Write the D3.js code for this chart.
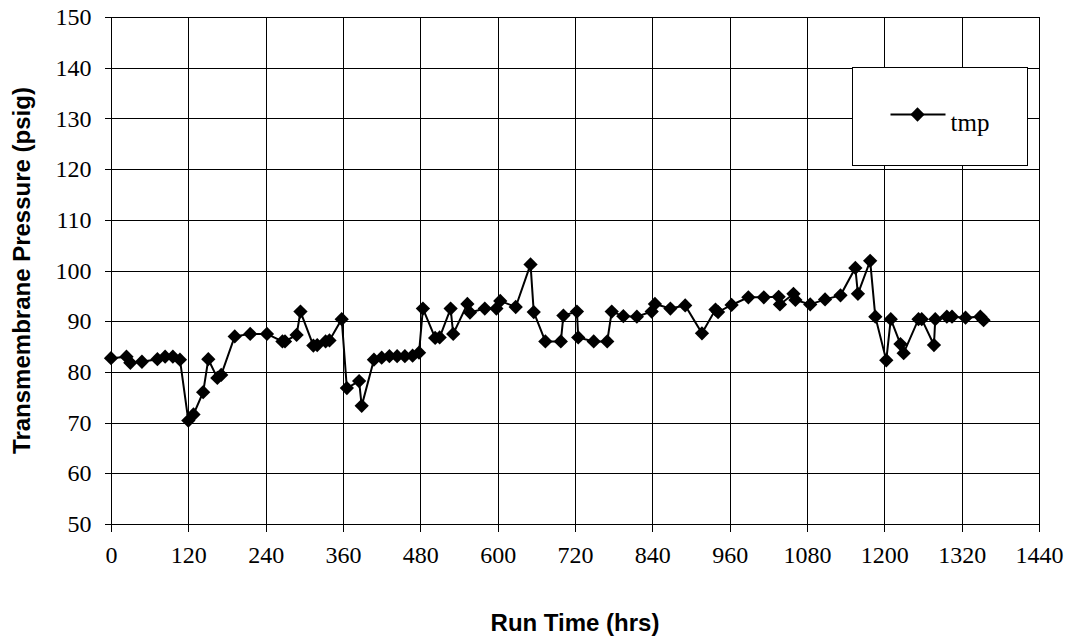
<!DOCTYPE html>
<html>
<head>
<meta charset="utf-8">
<script src="https://cdn.jsdelivr.net/npm/d3@7"></script>
<style>
  body { margin: 0; background: #fff; }
  svg { display: block; }
  .tick text { font-family: "Liberation Serif", "Times New Roman", serif; font-size: 24px; fill: #000; }
</style>
</head>
<body>
<div id="chart"></div>
<script>
// run time (hrs) and transmembrane pressure (psig)
var hours = [0, 24, 30, 48, 72, 84, 96, 107,
  120, 128, 143, 151, 165, 171, 192, 216, 242, 266, 270, 288, 294,
  314, 320, 333, 339, 358, 366, 385, 389, 408, 420, 432, 444, 456, 468, 478,
  484, 503, 510, 527, 531, 553, 557, 580, 598, 604, 628, 651, 656,
  674, 698, 702, 723, 725, 749, 770, 777, 795, 816, 839, 844,
  868, 891, 917, 938, 942, 963, 989, 1013, 1036, 1038, 1059, 1062,
  1085, 1108, 1132, 1155, 1159, 1178, 1186, 1203, 1210, 1225, 1230,
  1253, 1258, 1277, 1279, 1297, 1305, 1326, 1349, 1354];
var tmp = [82.7, 83.0, 81.8, 82.0, 82.5, 83.0, 83.0, 82.4,
  70.4, 71.6, 76.0, 82.5, 78.8, 79.4, 87.0, 87.5, 87.5, 86.0, 86.0, 87.3, 91.9,
  85.2, 85.3, 86.0, 86.2, 90.4, 76.8, 78.2, 73.3, 82.4, 82.8, 83.1, 83.1, 83.1, 83.2, 83.8,
  92.5, 86.7, 86.8, 92.5, 87.5, 93.4, 91.7, 92.5, 92.5, 94.0, 92.8, 101.2, 91.8,
  86.0, 86.0, 91.1, 91.9, 86.8, 86.0, 86.0, 91.9, 91.0, 90.9, 91.9, 93.4,
  92.5, 93.1, 87.6, 92.3, 91.8, 93.2, 94.7, 94.7, 94.8, 93.3, 95.4, 94.2,
  93.3, 94.3, 95.1, 100.5, 95.4, 101.9, 90.9, 82.3, 90.4, 85.5, 83.7,
  90.4, 90.4, 85.3, 90.4, 90.9, 90.9, 90.7, 90.9, 90.2];
var xTicks = [0, 120, 240, 360, 480, 600, 720, 840, 960, 1080, 1200, 1320, 1440];
var yTicks = [50, 60, 70, 80, 90, 100, 110, 120, 130, 140, 150];
var seriesName = "tmp";

var data = hours.map(function(h, i) { return {h: h, v: tmp[i]}; });

var width = 1071, height = 637;
var margin = {top: 17, right: 32, bottom: 113, left: 111};
var serif = "'Liberation Serif', 'Times New Roman', serif";

var svg = d3.select("#chart").append("svg")
    .attr("width", width)
    .attr("height", height);

var x = d3.scaleLinear().domain([0, 1440]).range([margin.left, width - margin.right]);
var y = d3.scaleLinear().domain([50, 150]).range([height - margin.bottom, margin.top]);

// gridlines
svg.append("g")
    .selectAll("line")
    .data(xTicks)
  .enter().append("line")
    .attr("x1", function(d) { return Math.round(x(d)) + 0.5; })
    .attr("x2", function(d) { return Math.round(x(d)) + 0.5; })
    .attr("y1", y(150))
    .attr("y2", y(50))
    .attr("stroke", "#000")
    .attr("shape-rendering", "crispEdges");

svg.append("g")
    .selectAll("line")
    .data(yTicks)
  .enter().append("line")
    .attr("x1", x(0))
    .attr("x2", x(1440))
    .attr("y1", function(d) { return Math.round(y(d)) + 0.5; })
    .attr("y2", function(d) { return Math.round(y(d)) + 0.5; })
    .attr("stroke", "#000")
    .attr("shape-rendering", "crispEdges");

// axes
var xAxis = svg.append("g")
    .attr("transform", "translate(0," + (Math.round(y(50)) + 0.5) + ")")
    .call(d3.axisBottom(x).tickValues(xTicks).tickFormat(d3.format("d")).tickSize(7).tickPadding(14));
var yAxis = svg.append("g")
    .attr("transform", "translate(" + (Math.round(x(0)) + 0.5) + ",0)")
    .call(d3.axisLeft(y).tickValues(yTicks).tickFormat(d3.format("d")).tickSize(7).tickPadding(13));

[xAxis, yAxis].forEach(function(g) {
  g.attr("font-family", serif).attr("font-size", 24);
  g.select(".domain").remove();
  g.selectAll(".tick line").attr("stroke", "#000").attr("shape-rendering", "crispEdges");
  g.selectAll(".tick text").attr("fill", "#000");
});

// plot frame
svg.append("rect")
    .attr("x", Math.round(x(0)) + 0.5)
    .attr("y", Math.round(y(150)) + 0.5)
    .attr("width", Math.round(x(1440)) - Math.round(x(0)))
    .attr("height", Math.round(y(50)) - Math.round(y(150)))
    .attr("fill", "none")
    .attr("stroke", "#000")
    .attr("shape-rendering", "crispEdges");

// series
var line = d3.line()
    .x(function(d) { return x(d.h); })
    .y(function(d) { return y(d.v); });

svg.append("path")
    .datum(data)
    .attr("d", line)
    .attr("fill", "none")
    .attr("stroke", "#000")
    .attr("stroke-width", 2);

var diamond = d3.symbol().type(d3.symbolDiamond2).size(130);

svg.selectAll(".pt")
    .data(data)
  .enter().append("path")
    .attr("class", "pt")
    .attr("transform", function(d) { return "translate(" + x(d.h) + "," + y(d.v) + ")"; })
    .attr("d", diamond)
    .attr("fill", "#000");

// legend
var legend = svg.append("g").attr("transform", "translate(852.5,67.5)");
legend.append("rect")
    .attr("width", 175)
    .attr("height", 98)
    .attr("fill", "#fff")
    .attr("stroke", "#000")
    .attr("shape-rendering", "crispEdges");
legend.append("line")
    .attr("x1", 38).attr("x2", 93)
    .attr("y1", 47).attr("y2", 47)
    .attr("stroke", "#000")
    .attr("stroke-width", 2);
legend.append("path")
    .attr("transform", "translate(65,47)")
    .attr("d", diamond)
    .attr("fill", "#000");
legend.append("text")
    .attr("x", 98)
    .attr("y", 63)
    .attr("font-family", serif)
    .attr("font-size", 25)
    .text(seriesName);

// axis titles
svg.append("text")
    .attr("x", (x(0) + x(1440)) / 2)
    .attr("y", 631)
    .attr("text-anchor", "middle")
    .attr("font-family", "'Liberation Sans', Arial, sans-serif")
    .attr("font-weight", "bold")
    .attr("font-size", 24)
    .text("Run Time (hrs)");

svg.append("text")
    .attr("transform", "translate(30," + (y(50) + y(150)) / 2 + ") rotate(-90)")
    .attr("text-anchor", "middle")
    .attr("font-family", "'Liberation Sans', Arial, sans-serif")
    .attr("font-weight", "bold")
    .attr("font-size", 24)
    .text("Transmembrane Pressure (psig)");
</script>
</body>
</html>
